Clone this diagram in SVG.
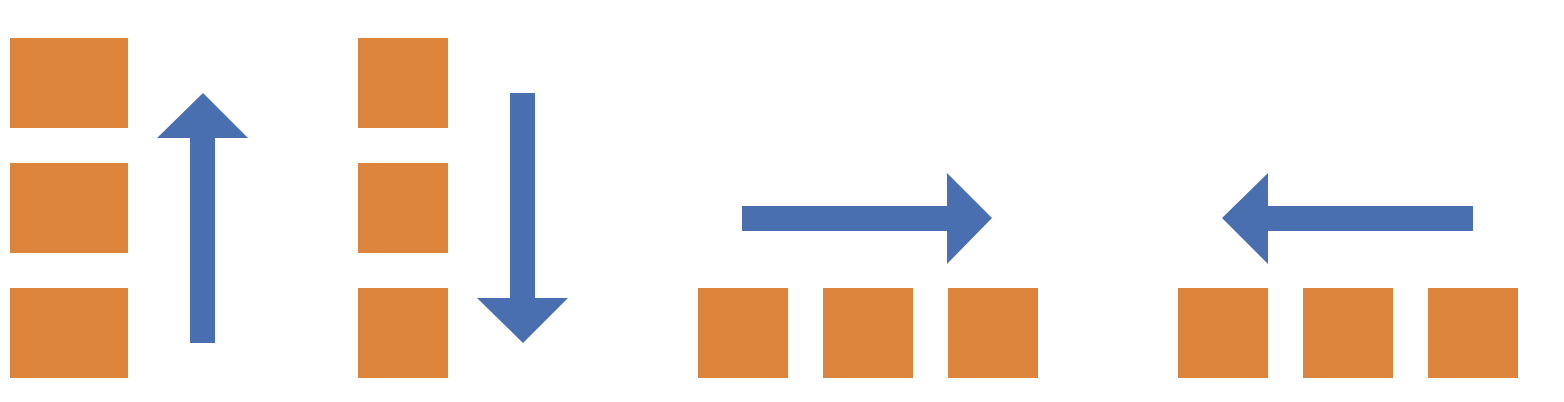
<svg xmlns="http://www.w3.org/2000/svg" width="1564" height="402" viewBox="0 0 1564 402">
<style>
.sq{fill:#DC843C}
.ar{fill:#4A6FB0}
</style>
<rect width="1564" height="402" fill="#ffffff"/>
<g id="col1">
<rect id="c1a" class="sq" x="10" y="38" width="118" height="90"/>
<rect id="c1b" class="sq" x="10" y="163" width="118" height="90"/>
<rect id="c1c" class="sq" x="10" y="288" width="118" height="90"/>
</g>
<g id="col2">
<rect id="c2a" class="sq" x="358" y="38" width="90" height="90"/>
<rect id="c2b" class="sq" x="358" y="163" width="90" height="90"/>
<rect id="c2c" class="sq" x="358" y="288" width="90" height="90"/>
</g>
<g id="row1">
<rect class="sq" x="698" y="288" width="90" height="90"/>
<rect class="sq" x="823" y="288" width="90" height="90"/>
<rect class="sq" x="948" y="288" width="90" height="90"/>
</g>
<g id="row2">
<rect class="sq" x="1178" y="288" width="90" height="90"/>
<rect class="sq" x="1303" y="288" width="90" height="90"/>
<rect class="sq" x="1428" y="288" width="90" height="90"/>
</g>
<g id="arrows">
<polygon class="ar" points="203,93 248,138 215,138 215,343 190,343 190,138 157,138"/>
<polygon class="ar" points="510,93 535,93 535,298 568,298 523,343 477,298 510,298"/>
<polygon class="ar" points="742,206 947,206 947,173 992,218 947,264 947,231 742,231"/>
<polygon class="ar" points="1473,206 1268,206 1268,173 1222,218 1268,264 1268,231 1473,231"/>
</g>
</svg>
